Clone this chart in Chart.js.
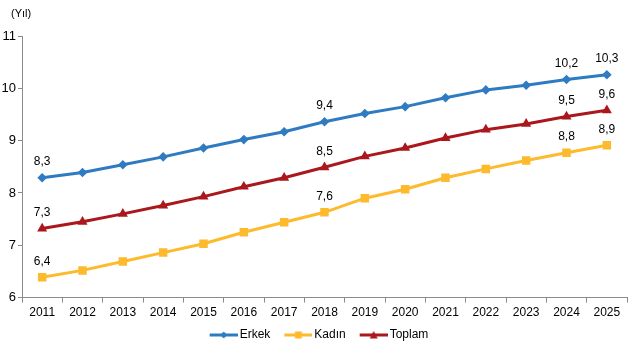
<!DOCTYPE html>
<html>
<head>
<meta charset="utf-8">
<script src="https://cdn.jsdelivr.net/npm/chart.js@4/dist/chart.umd.min.js"></script>
<style>
  html, body { margin: 0; padding: 0; background: #fff; }
  #wrap { width: 633px; height: 343px; position: relative; }
</style>
</head>
<body>
<div id="wrap"><canvas id="c" width="633" height="343"></canvas></div>
<script>
const years = ['2011','2012','2013','2014','2015','2016','2017','2018','2019','2020','2021','2022','2023','2024','2025'];
const erkek  = [8.29, 8.39, 8.54, 8.69, 8.86, 9.02, 9.17, 9.36, 9.52, 9.65, 9.82, 9.97, 10.06, 10.17, 10.26];
const kadin  = [6.39, 6.52, 6.69, 6.86, 7.03, 7.25, 7.44, 7.63, 7.90, 8.07, 8.29, 8.46, 8.62, 8.77, 8.91];
const toplam = [7.32, 7.45, 7.60, 7.76, 7.93, 8.12, 8.29, 8.49, 8.70, 8.86, 9.05, 9.21, 9.32, 9.46, 9.58];
const labeledYears = ['2011','2018','2024','2025'];
const yTicks = [6, 7, 8, 9, 10, 11];
const unitLabel = '(Yıl)';

const C_ERKEK = '#2F7BC1';
const C_KADIN = '#FDBA2C';
const C_TOPLAM = '#AA171C';
const FONT = '"Liberation Sans", Arial, sans-serif';

function legendIcon(color, style) {
  const cv = document.createElement('canvas');
  cv.width = 40; cv.height = 10;
  const g = cv.getContext('2d');
  g.strokeStyle = color; g.lineWidth = 3;
  g.beginPath(); g.moveTo(12, 5); g.lineTo(40, 5); g.stroke();
  g.fillStyle = color;
  g.beginPath();
  const cx = 26;
  if (style === 'rectRot') { g.moveTo(cx, 1.5); g.lineTo(cx + 3.5, 5); g.lineTo(cx, 8.5); g.lineTo(cx - 3.5, 5); }
  else if (style === 'rect') { g.rect(cx - 3.5, 1.5, 7, 7); }
  else { g.moveTo(cx, 1); g.lineTo(cx + 4, 8.5); g.lineTo(cx - 4, 8.5); }
  g.closePath(); g.fill();
  return cv;
}

const labelPlugin = {
  id: 'valueLabels',
  afterDatasetsDraw(chart) {
    const ctx = chart.ctx;
    ctx.save();
    ctx.font = '12px ' + FONT;
    ctx.fillStyle = '#000';
    ctx.textAlign = 'center';
    ctx.textBaseline = 'middle';
    chart.data.datasets.forEach((ds, di) => {
      const meta = chart.getDatasetMeta(di);
      meta.data.forEach((pt, i) => {
        if (labeledYears.includes(chart.data.labels[i])) {
          ctx.fillText(ds.data[i].toFixed(1).replace('.', ','), pt.x, pt.y - 16);
        }
      });
    });
    ctx.font = '11px ' + FONT;
    ctx.textAlign = 'left';
    ctx.fillText(unitLabel, 11, 14);
    ctx.restore();
  }
};

function ds(label, data, color, style, radius) {
  return {
    label, data,
    borderColor: color, backgroundColor: color,
    borderWidth: 3,
    pointStyle: style, pointRadius: radius, pointHoverRadius: radius,
    pointBorderWidth: 0,
    tension: 0,
    legendIcon: legendIcon(color, style)
  };
}

new Chart(document.getElementById('c'), {
  type: 'line',
  data: {
    labels: years,
    datasets: [
      ds('Erkek', erkek, C_ERKEK, 'rectRot', 4.8),
      ds('Kadın', kadin, C_KADIN, 'rect', 6),
      ds('Toplam', toplam, C_TOPLAM, 'triangle', 5.8)
    ]
  },
  options: {
    responsive: false,
    animation: false,
    devicePixelRatio: 1,
    layout: { padding: { top: 36, right: 3, left: 0, bottom: -8 } },
    plugins: {
      tooltip: { enabled: false },
      title: { display: false },
      legend: {
        position: 'bottom',
        labels: {
          usePointStyle: true,
          pointStyleWidth: 32,
          padding: 6,
          color: '#000',
          font: { family: FONT, size: 12 },
          generateLabels(chart) {
            return chart.data.datasets.map((d, i) => ({
              text: d.label,
              pointStyle: d.legendIcon,
              fillStyle: d.borderColor,
              strokeStyle: d.borderColor,
              lineWidth: 0,
              datasetIndex: i,
              hidden: false,
              fontColor: '#000'
            }));
          }
        }
      }
    },
    scales: {
      x: {
        offset: true,
        grid: { display: true, drawOnChartArea: false, offset: true, color: '#8c8c8c', tickLength: 5 },
        border: { display: true, color: '#8c8c8c', width: 1 },
        ticks: { color: '#000', font: { family: FONT, size: 12 }, padding: 3, maxRotation: 0, autoSkip: false }
      },
      y: {
        min: 6, max: 11,
        afterFit(scale) { scale.width = 22; },
        afterBuildTicks(scale) { scale.ticks = yTicks.map(v => ({ value: v })); },
        grid: { display: true, drawOnChartArea: false, color: '#8c8c8c', tickLength: 4 },
        border: { display: true, color: '#8c8c8c', width: 1 },
        ticks: { color: '#000', font: { family: FONT, size: 13 }, padding: 2 }
      }
    }
  },
  plugins: [labelPlugin]
});
</script>
</body>
</html>
